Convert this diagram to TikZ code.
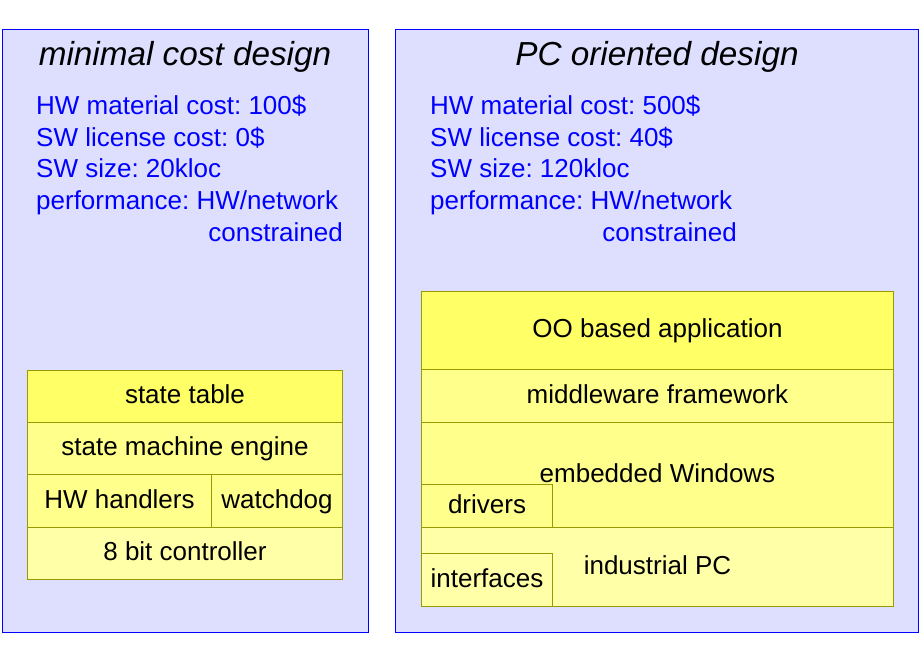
\documentclass[tikz,border=0pt]{standalone}
\usepackage{fontspec}
\setmainfont{Liberation Sans}
\usetikzlibrary{positioning}
\frenchspacing
\definecolor{panelbg}{HTML}{DEDEFF}
\definecolor{yelA}{HTML}{FFFF66}
\definecolor{yelB}{HTML}{FFFF8C}
\definecolor{yelC}{HTML}{FFFFA8}
\definecolor{layerline}{HTML}{999900}
\tikzset{
	panel/.style={draw=blue, fill=panelbg, line width=1pt, anchor=north west, inner sep=0pt},
	layer/.style={draw=layerline, line width=1pt, anchor=north west, inner sep=0pt, text height=19pt, text depth=5pt, font=\fontsize{26}{30}\selectfont},
	facts/.style={text=blue, anchor=base west, inner sep=0pt, font=\fontsize{26}{30}\selectfont},
	heading/.style={anchor=base, inner sep=0pt, font=\fontsize{33.3}{38}\selectfont\itshape}
}
\begin{document}
\begin{tikzpicture}[x=1pt, y=-1pt]
		%%%%% START %%%%%
		\useasboundingbox[fill=white] (0, 0) rectangle (920, 660);
		
		% the two designs
		\node[panel, minimum width=366, minimum height=603] (mincost) at (2, 29) {};
		\node[panel, minimum width=523, minimum height=603] (pcdesign) at (395, 29) {};
		
		\node[heading] (mintitle) at (185, 66) {minimal cost design};
		\node[heading] (pctitle) at (657, 66) {PC oriented design};
		
		% key figures
		\foreach \txt [count=\i] in {HW material cost: 100\$, SW license cost: 0\$, SW size: 20kloc, performance: HW/network}
			\node[facts] (minfact\i) at (36, {115 + 31.5*(\i-1)}) {\txt};
		\node[facts, anchor=base east] (minfact5) at (343, 241) {constrained};
		
		\foreach \txt [count=\i] in {HW material cost: 500\$, SW license cost: 40\$, SW size: 120kloc, performance: HW/network}
			\node[facts] (pcfact\i) at (430, {115 + 31.5*(\i-1)}) {\txt};
		\node[facts, anchor=base east] (pcfact5) at (737, 241) {constrained};
		
		% minimal cost stack
		\node[layer, fill=yelA, minimum width=315, minimum height=52] (statetable) at (27, 370) {state table};
		\node[layer, fill=yelB, minimum width=315, minimum height=52] (engine) at (27, 422) {state machine engine};
		\node[layer, fill=yelB, minimum width=184, minimum height=53] (handlers) at (27, 474) {HW handlers};
		\node[layer, fill=yelB, minimum width=131, minimum height=53] (watchdog) at (211, 474) {watchdog};
		\node[layer, fill=yelC, minimum width=315, minimum height=52] (controller) at (27, 527) {8 bit controller};
		
		% PC stack
		\node[layer, fill=yelA, minimum width=472, minimum height=78] (ooapp) at (421, 291) {OO based application};
		\node[layer, fill=yelB, minimum width=472, minimum height=53] (middleware) at (421, 369) {middleware framework};
		\node[layer, fill=yelB, minimum width=472, minimum height=105] (windows) at (421, 422) {embedded Windows};
		\node[layer, fill=yelB, minimum width=131, minimum height=43] (drivers) at (421, 484) {drivers};
		\node[layer, fill=yelC, minimum width=472, minimum height=79] (indpc) at (421, 527) {industrial PC};
		\node[layer, fill=yelC, minimum width=131, minimum height=53] (interfaces) at (421, 553) {interfaces};
		
		%%%%% END %%%%%
	\end{tikzpicture}
\end{document}
